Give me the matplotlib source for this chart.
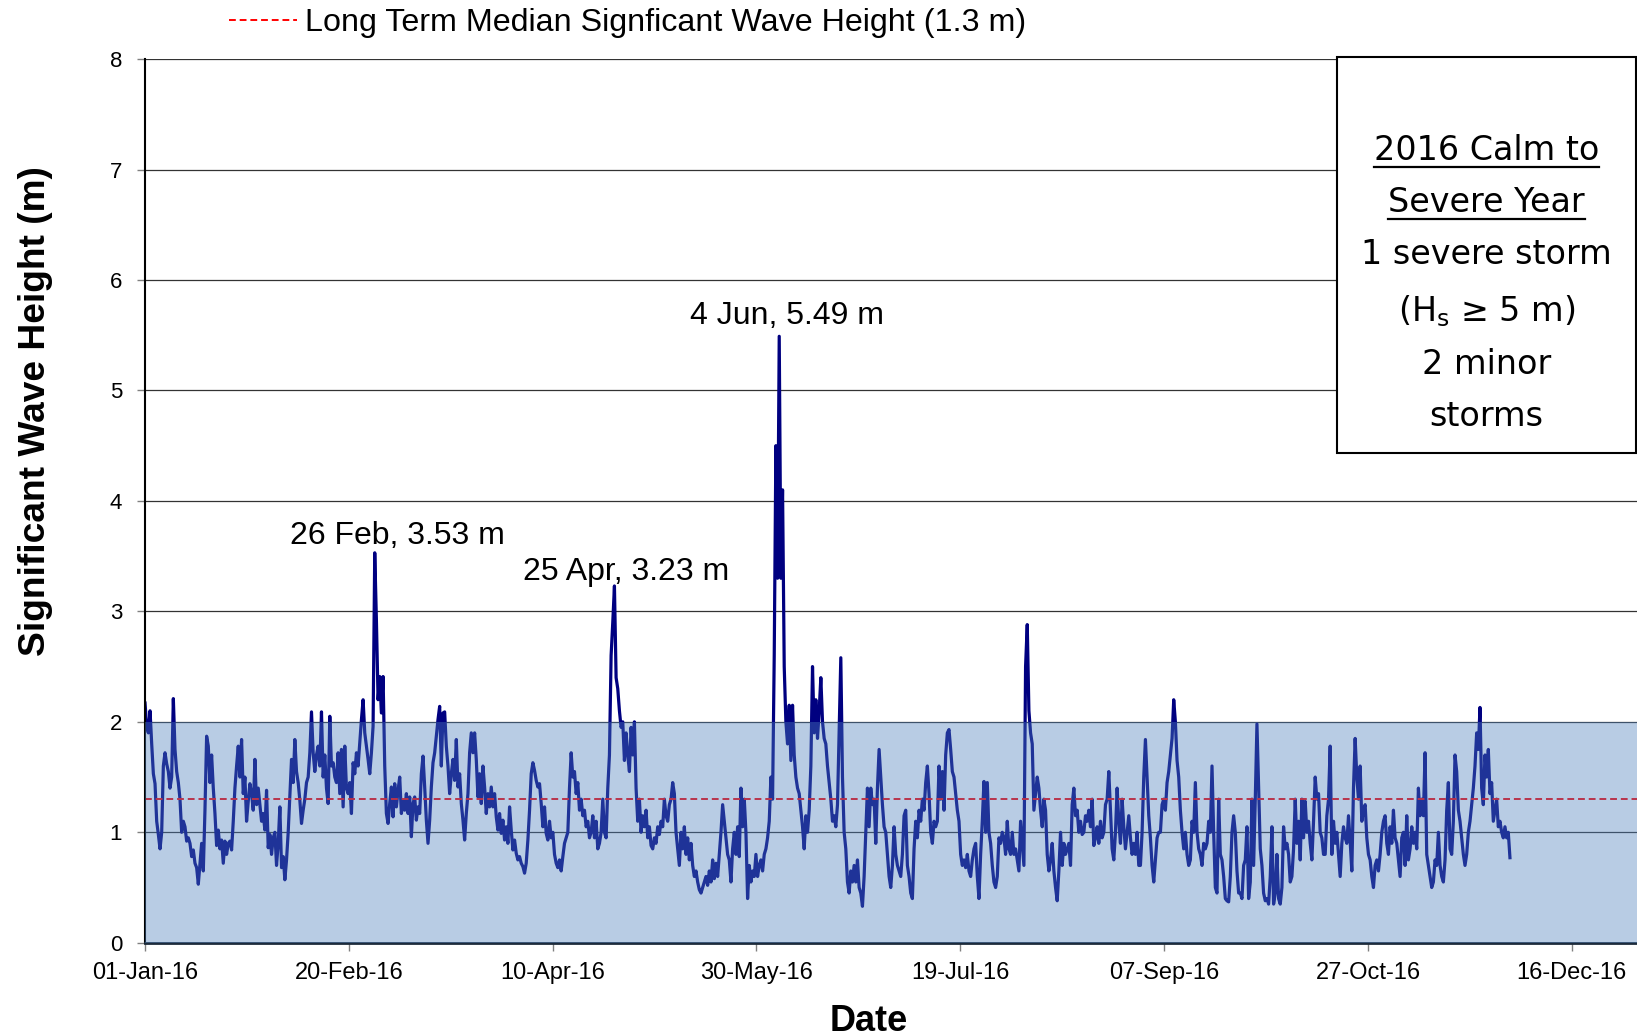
"""Significant wave height 2016 with storm annotations (recreated chart)."""

import matplotlib

matplotlib.use("Agg")
import matplotlib.dates as mdates
import matplotlib.pyplot as plt
import numpy as np
import pandas as pd
from matplotlib.lines import Line2D
from matplotlib.patches import Rectangle

plt.rcParams["font.family"] = ["Liberation Sans", "DejaVu Sans"]

# Hs readings (m), one every 588 min starting 01-Jan-2016, split by period
HS_JAN_FEB = [
    2.17, 1.95, 1.90, 2.10, 1.80, 1.53, 1.44, 1.10, 0.98, 0.85,
    1.00, 1.60, 1.72, 1.62, 1.55, 1.40, 1.50, 2.21, 1.75, 1.55,
    1.45, 1.30, 1.00, 1.10, 1.05, 0.92, 0.95, 0.90, 0.78, 0.84,
    0.72, 0.68, 0.53, 0.72, 0.90, 0.65, 1.20, 1.87, 1.78, 1.45,
    1.70, 1.40, 1.17, 0.88, 1.02, 0.85, 0.93, 0.72, 0.92, 0.80,
    0.90, 0.92, 0.84, 1.10, 1.40, 1.60, 1.78, 1.50, 1.84, 1.35,
    1.50, 1.10, 1.28, 1.44, 1.35, 1.20, 1.66, 1.25, 1.40, 1.25,
    1.10, 1.17, 1.02, 1.38, 0.86, 0.98, 0.80, 0.95, 1.00, 0.70,
    0.90, 1.23, 0.68, 0.78, 0.57, 0.75, 1.00, 1.32, 1.66, 1.45,
    1.84, 1.55, 1.45, 1.29, 1.08, 1.20, 1.30, 1.45, 1.50, 1.72,
    2.09, 1.72, 1.55, 1.70, 1.78, 1.60, 2.09, 1.50, 1.70, 1.40,
    1.26, 2.05, 1.60, 1.63, 1.50, 1.45, 1.72, 1.35, 1.75, 1.23,
    1.78, 1.40, 1.35,
]
HS_FEB_APR = [
    1.45, 1.17, 1.63, 1.53, 1.72, 1.60, 1.81, 2.02, 2.20, 1.90,
    1.78, 1.66, 1.53, 1.72, 1.96, 3.53, 2.92, 2.20, 2.41, 2.08,
    2.41, 1.60, 1.17, 1.08, 1.26, 1.41, 1.14, 1.44, 1.23, 1.38,
    1.50, 1.17, 1.29, 1.20, 1.35, 1.17, 1.32, 0.96, 1.26, 1.32,
    1.11, 1.23, 1.17, 1.53, 1.69, 1.41, 1.11, 0.90, 1.11, 1.41,
    1.63, 1.72, 1.87, 2.02, 2.14, 1.60, 2.08, 2.09, 1.78, 1.60,
    1.35, 1.53, 1.66, 1.47, 1.84, 1.41, 1.53, 1.26, 1.11, 0.93,
    1.17, 1.35, 1.72, 1.90, 1.72, 1.90, 1.66, 1.32, 1.53, 1.26,
    1.60, 1.41, 1.17, 1.35, 1.23, 1.41, 1.23, 1.35, 1.14, 1.02,
    1.17, 0.99, 1.11, 0.93, 1.05, 0.90, 1.23, 1.02, 0.84, 0.93,
    0.81, 0.75, 0.78, 0.72, 0.69, 0.63, 0.72, 0.93, 1.20, 1.53,
    1.63, 1.56, 1.47, 1.41, 1.44, 1.26, 1.05, 1.23, 0.99, 0.93,
]
HS_APR_MAY = [
    1.10, 0.95, 1.00, 0.80, 0.72, 0.68, 0.75, 0.65, 0.78, 0.90,
    0.95, 1.00, 1.40, 1.72, 1.50, 1.55, 1.35, 1.45, 1.20, 1.30,
    1.15, 1.20, 1.05, 1.10, 0.95, 1.00, 1.15, 0.95, 1.10, 0.85,
    0.90, 1.00, 1.30, 1.00, 0.95, 1.40, 1.70, 2.60, 2.90, 3.23,
    2.40, 2.30, 2.10, 1.95, 2.00, 1.65, 1.90, 1.70, 1.55, 1.95,
    1.70, 2.00, 1.40, 1.10, 1.30, 1.00, 1.15, 1.05, 1.20, 0.95,
    1.05, 0.88, 0.85, 0.95, 0.90, 1.05, 0.98, 1.10, 1.05, 1.30,
    1.15, 1.10, 1.25, 1.30, 1.45, 1.35, 1.00, 0.85, 0.70, 1.00,
    0.85, 1.05, 0.80, 0.95, 0.75, 0.90, 0.70, 0.60, 0.65, 0.55,
    0.48, 0.45, 0.50, 0.55, 0.60, 0.52, 0.65, 0.55, 0.75, 0.58,
    0.72, 0.60, 0.80, 1.00, 1.25, 1.10, 0.95, 0.80, 0.75, 0.55,
    0.85, 1.00, 0.80, 1.05, 0.78, 1.40, 1.05, 1.30, 1.00, 0.40,
]
HS_MAY_JUL = [
    0.70, 0.55, 0.65, 0.60, 0.80, 0.60, 0.70, 0.75, 0.65, 0.80,
    0.85, 0.95, 1.10, 1.50, 1.30, 2.60, 4.50, 3.30, 5.49, 3.30,
    4.10, 2.50, 2.00, 1.80, 2.15, 1.65, 2.15, 1.70, 1.50, 1.40,
    1.35, 1.20, 1.05, 0.85, 1.15, 1.00, 1.20, 1.60, 2.50, 1.90,
    2.20, 1.85, 2.10, 2.40, 2.00, 1.85, 1.80, 1.60, 1.45, 1.30,
    1.10, 1.15, 1.05, 1.25, 1.90, 2.58, 1.50, 1.00, 0.85, 0.55,
    0.45, 0.65, 0.55, 0.70, 0.55, 0.75, 0.50, 0.45, 0.33, 0.60,
    1.00, 1.40, 1.05, 1.40, 1.25, 1.30, 0.90, 1.40, 1.75, 1.50,
    1.25, 1.05, 1.00, 0.80, 0.60, 0.50, 0.70, 1.05, 0.80, 0.70,
    0.65, 0.60, 0.80, 1.15, 1.20, 0.70, 0.60, 0.45, 0.40, 0.85,
    1.10, 0.95, 1.20, 1.10, 1.30, 1.20, 1.45, 1.60, 1.35, 1.00,
    0.90, 1.10, 1.05, 1.10, 1.60, 1.30, 1.55, 1.20, 1.70, 1.90,
]
HS_JUL_SEP = [
    1.93, 1.75, 1.55, 1.50, 1.35, 1.20, 1.10, 0.80, 0.70, 0.75,
    0.68, 0.80, 0.65, 0.60, 0.75, 0.85, 0.90, 0.60, 0.40, 0.80,
    1.10, 1.46, 1.00, 1.45, 1.00, 0.90, 0.70, 0.55, 0.50, 0.60,
    0.95, 0.90, 1.00, 0.95, 0.80, 1.10, 0.85, 0.80, 1.00, 0.80,
    0.85, 0.75, 0.65, 1.10, 0.90, 0.70, 2.50, 2.88, 2.10, 1.90,
    1.80, 1.20, 1.35, 1.50, 1.40, 1.20, 1.05, 1.30, 1.20, 0.80,
    0.65, 0.75, 0.90, 0.65, 0.50, 0.38, 0.65, 1.00, 0.70, 0.90,
    0.80, 0.85, 0.90, 0.70, 1.25, 1.40, 1.15, 1.20, 1.00, 1.10,
    0.98, 1.00, 1.15, 1.10, 1.20, 1.05, 1.30, 0.88, 0.95, 1.05,
    0.90, 1.10, 0.95, 1.00, 1.25, 1.30, 1.55, 1.20, 0.85, 0.75,
    1.00, 1.40, 1.10, 0.90, 1.30, 1.05, 0.85, 1.00, 1.15, 0.95,
    0.80, 0.90, 0.80, 1.00, 0.70, 0.70, 1.00, 1.50, 1.84, 1.50,
]
HS_SEP_OCT = [
    1.15, 0.95, 0.70, 0.55, 0.75, 0.95, 1.00, 1.00, 1.25, 1.30,
    1.20, 1.45, 1.55, 1.70, 1.85, 2.20, 2.00, 1.65, 1.50, 1.20,
    1.00, 0.85, 1.00, 0.80, 0.70, 0.75, 1.10, 1.00, 1.45, 1.00,
    0.85, 0.80, 0.70, 0.90, 0.85, 0.90, 1.10, 1.00, 1.60, 1.00,
    0.50, 0.45, 1.30, 0.80, 0.75, 0.60, 0.40, 0.38, 0.37, 0.60,
    1.00, 1.15, 1.00, 0.65, 0.45, 0.45, 0.40, 0.70, 0.75, 1.05,
    0.40, 0.55, 1.30, 0.70, 1.30, 1.98, 1.40, 0.85, 0.70, 0.45,
    0.38, 0.40, 0.35, 0.60, 1.05, 0.35, 0.45, 0.80, 0.40, 0.35,
    0.50, 1.05, 0.85, 0.90, 0.80, 0.55, 0.60, 0.85, 1.30, 0.90,
    1.10, 0.75, 1.30, 0.95, 1.28, 1.00, 1.10, 0.90, 0.75, 1.10,
    1.50, 1.30, 1.35, 1.00, 0.95, 0.80, 0.80, 1.15, 1.30, 1.78,
    0.80, 1.10, 0.90, 1.00, 0.80, 0.60, 0.90, 1.05, 0.95, 0.90,
]
HS_OCT_DEC = [
    1.15, 0.92, 0.65, 1.40, 1.85, 1.50, 1.30, 1.60, 1.10, 1.20,
    1.25, 0.95, 0.80, 0.75, 0.60, 0.50, 0.70, 0.75, 0.65, 0.80,
    1.00, 1.10, 1.15, 0.90, 0.80, 1.05, 0.90, 1.20, 0.95, 0.90,
    0.75, 0.60, 0.95, 1.00, 0.70, 1.15, 0.75, 0.85, 1.05, 0.90,
    1.00, 0.85, 1.40, 1.15, 1.30, 1.15, 1.72, 0.80, 0.70, 0.60,
    0.50, 0.55, 0.75, 0.70, 1.00, 0.70, 0.60, 0.55, 0.75, 1.20,
    1.45, 0.85, 0.80, 1.10, 1.70, 1.55, 1.20, 1.10, 0.95, 0.80,
    0.70, 0.80, 1.00, 1.10, 1.25, 1.40, 1.60, 1.90, 1.75, 2.13,
    1.40, 1.25, 1.70, 1.50, 1.75, 1.35, 1.45, 1.10, 1.20, 1.30,
    1.05, 1.10, 1.00, 0.95, 1.05, 0.95, 1.00, 0.77,
]

MEDIAN_HS = 1.3
BAND_TOP = 2.0
PEAK_DATES = ["2016-02-26", "2016-04-25", "2016-06-04"]
PEAK_VALUES = [3.53, 3.23, 5.49]
PEAK_LABELS = ["26 Feb, 3.53 m", "25 Apr, 3.23 m", "4 Jun, 5.49 m"]
PEAK_OFFSETS = [(24, 9), (12, 6), (10, 12)]  # label offset in pixels

BOX_LINES = ["2016 Calm to", "Severe Year", "1 severe storm",
             "(H$_\\mathregular{s}$ \u2265 5 m)", "2 minor", "storms"]
BOX_BASELINES = [0.8862, 0.8268, 0.7677, 0.7034, 0.6439, 0.5846]

hs = np.concatenate([HS_JAN_FEB, HS_FEB_APR, HS_APR_MAY, HS_MAY_JUL,
                     HS_JUL_SEP, HS_SEP_OCT, HS_OCT_DEC])
times = pd.date_range("2016-01-01", periods=len(hs), freq="588min")

fig = plt.figure(figsize=(16.37, 10.36), dpi=100)
ax = fig.add_axes([0.0886, 0.090, 0.9114, 0.853])

ax.plot(times, hs, color="#000080", lw=2.3, zorder=2)
ax.axhline(MEDIAN_HS, color="#ff0000", lw=1.4, dashes=(3.5, 2.0), zorder=2.5)
ax.axhspan(0, BAND_TOP, color="#4F81BD", alpha=0.4, lw=0, zorder=3)

ax.set_xlim(pd.Timestamp("2016-01-01"), pd.Timestamp("2017-01-01"))
ax.set_ylim(0, 8)
ax.set_yticks(range(0, 9))
ax.set_xticks(pd.date_range("2016-01-01", periods=8, freq="50D"))
ax.xaxis.set_major_formatter(mdates.DateFormatter("%d-%b-%y"))
ax.tick_params(axis="x", labelsize=17, length=6, width=1, color="#808080", pad=7.5)
ax.tick_params(axis="y", labelsize=16, length=6, width=1, color="#808080", pad=10.5)

ax.yaxis.grid(True, color="#333333", lw=0.9)
ax.set_axisbelow(True)
for side in ("top", "right"):
    ax.spines[side].set_visible(False)
ax.spines["left"].set_color("black")
ax.spines["left"].set_linewidth(1.5)
ax.spines["bottom"].set_color("#1c2a3a")
ax.spines["bottom"].set_linewidth(2.0)

ax.set_ylabel("Significant Wave Height (m)", fontsize=26.7, fontweight="bold")
ax.yaxis.set_label_coords(-0.062, 0.602)
ax.set_xlabel("Date", fontsize=26, fontweight="bold")
ax.xaxis.set_label_coords(0.485, -0.069)

for date, val, label, off in zip(PEAK_DATES, PEAK_VALUES, PEAK_LABELS, PEAK_OFFSETS):
    ax.annotate(label, xy=(pd.Timestamp(date), val), xytext=off,
                textcoords="offset pixels", ha="center", va="baseline",
                fontsize=23, zorder=5)

median_handle = Line2D([], [], color="#ff0000", lw=1.4, dashes=(3.5, 2.0))
ax.legend([median_handle], ["Long Term Median Signficant Wave Height (1.3 m)"],
          loc="lower left", bbox_to_anchor=(0.140, 0.963),
          bbox_transform=fig.transFigure, frameon=False, fontsize=23.2,
          handlelength=2.1, handletextpad=0.25, borderpad=0, borderaxespad=0)

# text box at the right
ax.add_patch(Rectangle((0.7991, 0.5543), 0.2005, 0.448, transform=ax.transAxes,
                       facecolor="white", edgecolor="black", lw=1.5,
                       clip_on=False, zorder=6))
box_texts = []
for line, yb in zip(BOX_LINES, BOX_BASELINES):
    t = ax.text(0.8992, yb, line, transform=ax.transAxes, ha="center",
                va="baseline", fontsize=24, family="DejaVu Sans", zorder=7)
    box_texts.append(t)

fig.canvas.draw()
renderer = fig.canvas.get_renderer()
inv = ax.transAxes.inverted()
for t in box_texts[:2]:
    bb = t.get_window_extent(renderer)
    _, yb = ax.transAxes.transform((0, t.get_position()[1]))
    (x0, y0), (x1, _) = inv.transform([(bb.x0, yb - 7), (bb.x1, yb - 7)])
    ax.plot([x0, x1], [y0, y0], transform=ax.transAxes, color="black",
            lw=1.6, clip_on=False, zorder=7)

fig.savefig("out.png", dpi=100)
